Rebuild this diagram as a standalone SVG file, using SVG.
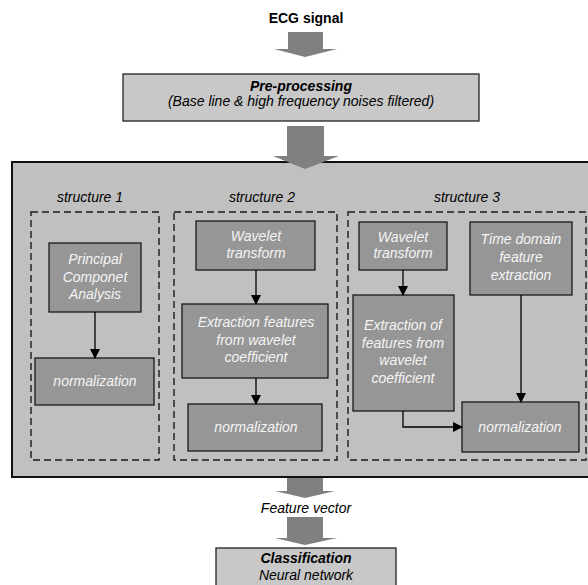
<svg xmlns="http://www.w3.org/2000/svg" width="588" height="585" viewBox="0 0 588 585">
<defs>
<marker id="ah" markerWidth="10" markerHeight="10" refX="9" refY="5" orient="auto" markerUnits="userSpaceOnUse">
<path d="M0,0 L10,5 L0,10 Z" fill="#000"/>
</marker>
<style>
.t{font-family:"Liberation Sans",Arial,sans-serif;font-size:14px;text-anchor:middle}
.it{font-style:italic}
.bd{font-weight:bold}
.w{fill:#f4f4f4;font-style:italic}
.box{fill:#969696;stroke:#1a1a1a;stroke-width:1.3}
.dash{fill:none;stroke:#1a1a1a;stroke-width:1.4;stroke-dasharray:7,4}
.big{fill:#c0c0c0;stroke:#111;stroke-width:2}
.lt{fill:#c8c8c8;stroke:#222;stroke-width:1.3}
.bar{fill:#808080}
.con{fill:none;stroke:#000;stroke-width:1.3;marker-end:url(#ah)}
</style>
</defs>
<rect width="588" height="585" fill="#fff"/>

<g id="ecg-signal"><text class="t bd" x="306" y="23">ECG signal</text></g>

<g id="preprocessing">
<rect class="lt" x="123" y="74" width="356" height="47"/>
<text class="t bd it" x="301" y="91">Pre-processing</text>
<text class="t it" x="301" y="106">(Base line &amp; high frequency noises filtered)</text>
</g>

<g id="feature-block">
<rect class="big" x="12" y="162" width="600" height="315"/>
<text class="t it" x="90" y="202">structure 1</text>
<text class="t it" x="262" y="202">structure 2</text>
<text class="t it" x="467" y="202">structure 3</text>
</g>

<g id="structure1"><rect class="dash" x="31" y="212" width="128" height="248"/></g>
<g id="structure2"><rect class="dash" x="174" y="212" width="163" height="248"/></g>
<g id="structure3"><rect class="dash" x="348" y="212" width="238" height="248"/></g>

<g id="pca">
<rect class="box" x="49" y="243" width="92" height="69"/>
<text class="t w" x="95" y="264">Principal</text>
<text class="t w" x="95" y="282">Componet</text>
<text class="t w" x="95" y="299">Analysis</text>
</g>
<g id="norm1">
<rect class="box" x="35" y="358" width="119" height="47"/>
<text class="t w" x="95" y="386">normalization</text>
</g>

<g id="wavelet2">
<rect class="box" x="196" y="221" width="119" height="49"/>
<text class="t w" x="256" y="241">Wavelet</text>
<text class="t w" x="256" y="258">transform</text>
</g>
<g id="extract2">
<rect class="box" x="182" y="304" width="146" height="74"/>
<text class="t w" x="256" y="327">Extraction features</text>
<text class="t w" x="256" y="345">from wavelet</text>
<text class="t w" x="256" y="362">coefficient</text>
</g>
<g id="norm2">
<rect class="box" x="188" y="404" width="134" height="47"/>
<text class="t w" x="256" y="432">normalization</text>
</g>

<g id="wavelet3">
<rect class="box" x="359" y="222" width="88" height="48"/>
<text class="t w" x="403" y="242">Wavelet</text>
<text class="t w" x="403" y="258">transform</text>
</g>
<g id="extract3">
<rect class="box" x="353" y="295" width="101" height="116"/>
<text class="t w" x="403" y="330">Extraction of</text>
<text class="t w" x="403" y="348">features from</text>
<text class="t w" x="403" y="365">wavelet</text>
<text class="t w" x="403" y="383">coefficient</text>
</g>
<g id="timedomain">
<rect class="box" x="470" y="222" width="102" height="73"/>
<text class="t w" x="521" y="244">Time domain</text>
<text class="t w" x="521" y="262">feature</text>
<text class="t w" x="521" y="280">extraction</text>
</g>
<g id="norm3">
<rect class="box" x="462" y="402" width="117" height="50"/>
<text class="t w" x="520" y="432">normalization</text>
</g>

<g id="connectors">
<polygon class="bar" points="288,32 323,32 323,49 337,49 305,57 274,49 288,49"/>
<polygon class="bar" points="287,126 324,126 324,156 339,156 305,169 273,156 287,156"/>
<polygon class="bar" points="287,478 323,478 323,491 335,491 305,498 275,491 287,491"/>
<polygon class="bar" points="287,517 323,517 323,538 337,538 305,545 275,538 287,538"/>
<path class="con" d="M95,312 V358"/>
<path class="con" d="M256,270 V304"/>
<path class="con" d="M256,378 V404"/>
<path class="con" d="M403,270 V295"/>
<path class="con" d="M521,295 V402"/>
<path class="con" d="M403,411 V427 H462"/>
</g>

<g id="feature-vector"><text class="t it" x="306" y="513">Feature vector</text></g>

<g id="classification">
<rect class="lt" x="216" y="548" width="180" height="50"/>
<text class="t bd it" x="306" y="563">Classification</text>
<text class="t it" x="306" y="580">Neural network</text>
</g>
</svg>
